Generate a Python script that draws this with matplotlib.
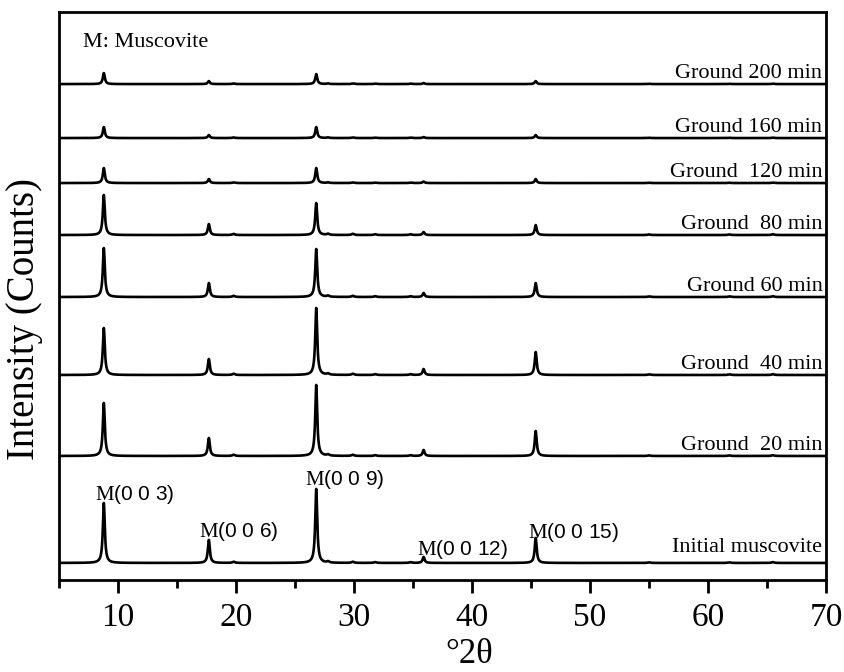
import numpy as np
import matplotlib
matplotlib.use("Agg")
import matplotlib.pyplot as plt

plt.rcParams['mathtext.fontset'] = 'custom'
plt.rcParams['mathtext.rm'] = 'Liberation Serif'
plt.rcParams['font.family'] = ['Liberation Serif', 'DejaVu Serif']

# ---- data ----
samples = ["Initial muscovite", "Ground  20 min", "Ground  40 min", "Ground 60 min",
           "Ground  80 min", "Ground  120 min", "Ground 160 min", "Ground 200 min"]
# main muscovite reflections (deg 2theta)
peak_pos = [8.8, 17.7, 26.8, 35.9, 45.4]
peak_names = ["M(0 0 3)", "M(0 0 6)", "M(0 0 9)", "M(0 0 12)", "M(0 0 15)"]
# peak intensities for each sample (arbitrary counts), order as peak_pos
peak_int = [
    [60, 23, 74, 6, 25],   # initial
    [53, 18, 71, 6, 25],   # 20 min
    [47, 16, 67, 6, 23],   # 40 min
    [49, 14, 48, 4, 14],   # 60 min
    [40, 11, 32, 3, 10],   # 80 min
    [15, 4, 15, 1.5, 4],   # 120 min
    [11, 3, 11, 1, 3],     # 160 min
    [11, 3, 10, 1, 3],     # 200 min
]
minor_pos = [19.8, 27.8, 29.9, 31.8, 34.8, 55.0, 61.8, 65.5]
minor_int = [1.2, 1.2, 1.2, 0.8, 0.8, 0.6, 0.6, 0.8]
# vertical offset of each pattern in the stack
offsets = [17, 124, 205, 283, 345, 397, 442, 496]
xticks = [10, 20, 30, 40, 50, 60, 70]

# ---- figure ----
fig = plt.figure(figsize=(8.45, 6.72), dpi=100)
ax = fig.add_axes([0.0698, 0.137, 0.9077, 0.845])

x = np.linspace(5, 70, 6501)

def profile(pos, amp, g):
    return amp * g**2 / ((x - pos)**2 + g**2)

for i, name in enumerate(samples):
    scale = min(1.0, peak_int[i][0] / 40.0)
    y = np.zeros_like(x)
    for p, a in zip(peak_pos, peak_int[i]):
        y += profile(p, a, 0.1)
    for p, a in zip(minor_pos, minor_int):
        y += profile(p, a * max(scale, 0.5), 0.12)
    ax.plot(x, y + offsets[i], color='black', lw=1.9)
    ax.text(69.7, offsets[i] + (11 if i == 0 else 6), name, ha='right', va='baseline',
            fontsize=16)

# peak labels on initial pattern
lab_x = [11.4, 20.2, 29.2, 39.2, 48.6]
lab_y = [80, 43, 95, 25, 42]
for lx, ly, nm in zip(lab_x, lab_y, peak_names):
    ax.text(lx, ly, "$\\mathrm{M}$" + nm[1:], ha='center', va='baseline', fontsize=15,
            family='Liberation Sans')

ax.text(7.0, 533, "M: Muscovite", ha='left', va='baseline', fontsize=16)

ax.set_xlim(5, 70)
ax.set_ylim(0, 568)
ax.set_xticks(xticks)
ax.set_xticks(np.arange(5, 71, 5), minor=True)
ax.set_yticks([])
ax.tick_params(axis='x', which='major', direction='out', length=9, width=2,
               labelsize=24, pad=7)
ax.tick_params(axis='x', which='minor', direction='out', length=6, width=2)
for s in ax.spines.values():
    s.set_linewidth(2)

ax.set_xlabel("°2θ", fontsize=25)
ax.xaxis.set_label_coords(0.535, -0.102)
ax.xaxis.label.set_va('top')
ax.set_ylabel("Intensity (Counts)", fontsize=28)
ax.yaxis.set_label_coords(-0.021, 0.46)

fig.savefig("out.png", dpi=100)
